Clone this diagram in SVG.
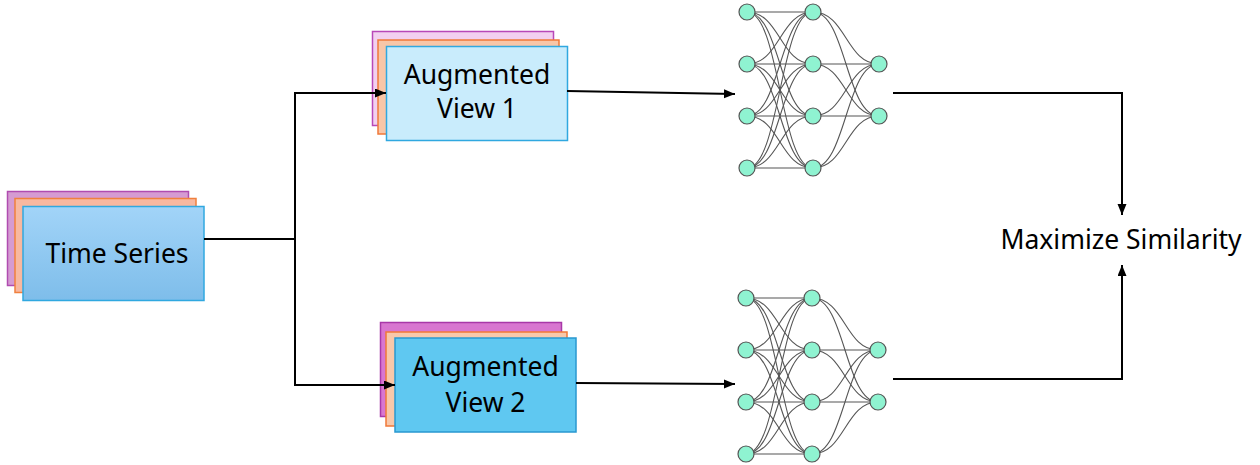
<svg xmlns="http://www.w3.org/2000/svg" width="1260" height="465" viewBox="0 0 1260 465">
<defs>
<linearGradient id="gTS" x1="0" y1="0" x2="0" y2="1">
<stop offset="0" stop-color="#a2d4f8"/>
<stop offset="1" stop-color="#7ebdea"/>
</linearGradient>
<marker id="arr" markerUnits="userSpaceOnUse" markerWidth="12" markerHeight="10" refX="11" refY="4.5" orient="auto">
<path d="M0,0 L11,4.5 L0,9 z" fill="#000"/>
</marker>
</defs>
<style>
.lbl{font-family:"Noto Sans","DejaVu Sans",sans-serif;font-size:26.5px;fill:#000;text-anchor:middle}
.con{fill:none;stroke:#000;stroke-width:2}
.edge{fill:none;stroke:#555;stroke-width:1.1}
.nd{fill:#8ff3d1;stroke:#555;stroke-width:1.2}
.box{stroke-width:1.5}
</style>
<rect width="1260" height="465" fill="#fff"/>

<g id="time-series">
<rect class="box" x="7.5" y="191.5" width="181" height="94" fill="#d59bd2" stroke="#b04cb0"/>
<rect class="box" x="15" y="198.5" width="181" height="94" fill="#f8b8a0" stroke="#f0803e"/>
<rect class="box" x="23" y="206.5" width="181" height="94" fill="url(#gTS)" stroke="#30a8e0"/>
<text class="lbl" x="117" y="263">Time Series</text>
</g>

<g id="augmented-view-1">
<rect class="box" x="372.5" y="31.5" width="181" height="94" fill="#f2d0f0" stroke="#b848b8"/>
<rect class="box" x="378" y="40" width="181" height="94" fill="#f8c6a8" stroke="#f07838"/>
<rect class="box" x="386.5" y="46.5" width="181" height="94" fill="#c9ecfc" stroke="#30a8e0"/>
<text class="lbl" x="477" y="84">Augmented</text>
<text class="lbl" x="477" y="118">View 1</text>
</g>

<g id="augmented-view-2">
<rect class="box" x="380.5" y="322.5" width="181" height="94" fill="#d876d0" stroke="#a838a8"/>
<rect class="box" x="386" y="332" width="181" height="94" fill="#f8c8aa" stroke="#f07838"/>
<rect class="box" x="395" y="338" width="181" height="94" fill="#5fc8f1" stroke="#2898d0"/>
<text class="lbl" x="485.5" y="376">Augmented</text>
<text class="lbl" x="485.5" y="412">View 2</text>
</g>

<g id="network-1">
<g class="edges">
<path class="edge" d="M747,12 L813,12"/>
<path class="edge" d="M747,12 C780,12 780,64 813,64"/>
<path class="edge" d="M747,12 C780,12 780,116 813,116"/>
<path class="edge" d="M747,12 C780,12 780,168 813,168"/>
<path class="edge" d="M747,64 C780,64 780,12 813,12"/>
<path class="edge" d="M747,64 L813,64"/>
<path class="edge" d="M747,64 C780,64 780,116 813,116"/>
<path class="edge" d="M747,64 C780,64 780,168 813,168"/>
<path class="edge" d="M747,116 C780,116 780,12 813,12"/>
<path class="edge" d="M747,116 C780,116 780,64 813,64"/>
<path class="edge" d="M747,116 L813,116"/>
<path class="edge" d="M747,116 C780,116 780,168 813,168"/>
<path class="edge" d="M747,168 C780,168 780,12 813,12"/>
<path class="edge" d="M747,168 C780,168 780,64 813,64"/>
<path class="edge" d="M747,168 C780,168 780,116 813,116"/>
<path class="edge" d="M747,168 L813,168"/>
<path class="edge" d="M813,12 C846,12 846,64 879,64"/>
<path class="edge" d="M813,12 C846,12 846,116 879,116"/>
<path class="edge" d="M813,64 L879,64"/>
<path class="edge" d="M813,64 C846,64 846,116 879,116"/>
<path class="edge" d="M813,116 C846,116 846,64 879,64"/>
<path class="edge" d="M813,116 L879,116"/>
<path class="edge" d="M813,168 C846,168 846,64 879,64"/>
<path class="edge" d="M813,168 C846,168 846,116 879,116"/>
</g>
<circle class="nd" cx="747" cy="12" r="8"/>
<circle class="nd" cx="747" cy="64" r="8"/>
<circle class="nd" cx="747" cy="116" r="8"/>
<circle class="nd" cx="747" cy="168" r="8"/>
<circle class="nd" cx="813" cy="12" r="8"/>
<circle class="nd" cx="813" cy="64" r="8"/>
<circle class="nd" cx="813" cy="116" r="8"/>
<circle class="nd" cx="813" cy="168" r="8"/>
<circle class="nd" cx="879" cy="64" r="8"/>
<circle class="nd" cx="879" cy="116" r="8"/>
</g>

<g id="network-2" transform="translate(-1,286)">
<g class="edges">
<path class="edge" d="M747,12 L813,12"/>
<path class="edge" d="M747,12 C780,12 780,64 813,64"/>
<path class="edge" d="M747,12 C780,12 780,116 813,116"/>
<path class="edge" d="M747,12 C780,12 780,168 813,168"/>
<path class="edge" d="M747,64 C780,64 780,12 813,12"/>
<path class="edge" d="M747,64 L813,64"/>
<path class="edge" d="M747,64 C780,64 780,116 813,116"/>
<path class="edge" d="M747,64 C780,64 780,168 813,168"/>
<path class="edge" d="M747,116 C780,116 780,12 813,12"/>
<path class="edge" d="M747,116 C780,116 780,64 813,64"/>
<path class="edge" d="M747,116 L813,116"/>
<path class="edge" d="M747,116 C780,116 780,168 813,168"/>
<path class="edge" d="M747,168 C780,168 780,12 813,12"/>
<path class="edge" d="M747,168 C780,168 780,64 813,64"/>
<path class="edge" d="M747,168 C780,168 780,116 813,116"/>
<path class="edge" d="M747,168 L813,168"/>
<path class="edge" d="M813,12 C846,12 846,64 879,64"/>
<path class="edge" d="M813,12 C846,12 846,116 879,116"/>
<path class="edge" d="M813,64 L879,64"/>
<path class="edge" d="M813,64 C846,64 846,116 879,116"/>
<path class="edge" d="M813,116 C846,116 846,64 879,64"/>
<path class="edge" d="M813,116 L879,116"/>
<path class="edge" d="M813,168 C846,168 846,64 879,64"/>
<path class="edge" d="M813,168 C846,168 846,116 879,116"/>
</g>
<circle class="nd" cx="747" cy="12" r="8"/>
<circle class="nd" cx="747" cy="64" r="8"/>
<circle class="nd" cx="747" cy="116" r="8"/>
<circle class="nd" cx="747" cy="168" r="8"/>
<circle class="nd" cx="813" cy="12" r="8"/>
<circle class="nd" cx="813" cy="64" r="8"/>
<circle class="nd" cx="813" cy="116" r="8"/>
<circle class="nd" cx="813" cy="168" r="8"/>
<circle class="nd" cx="879" cy="64" r="8"/>
<circle class="nd" cx="879" cy="116" r="8"/>
</g>

<g id="maximize-similarity">
<text class="lbl" x="1121" y="249">Maximize Similarity</text>
</g>

<g id="connectors">
<path class="con" d="M204,239 H295"/>
<path class="con" d="M295,239 V93 H386" marker-end="url(#arr)"/>
<path class="con" d="M295,239 V385 H395" marker-end="url(#arr)"/>
<path class="con" d="M567,91 L735,94" marker-end="url(#arr)"/>
<path class="con" d="M576,383 L735,384" marker-end="url(#arr)"/>
<path class="con" d="M893,93 H1122 V215" marker-end="url(#arr)"/>
<path class="con" d="M893,379 H1122 V265" marker-end="url(#arr)"/>
</g>
</svg>
